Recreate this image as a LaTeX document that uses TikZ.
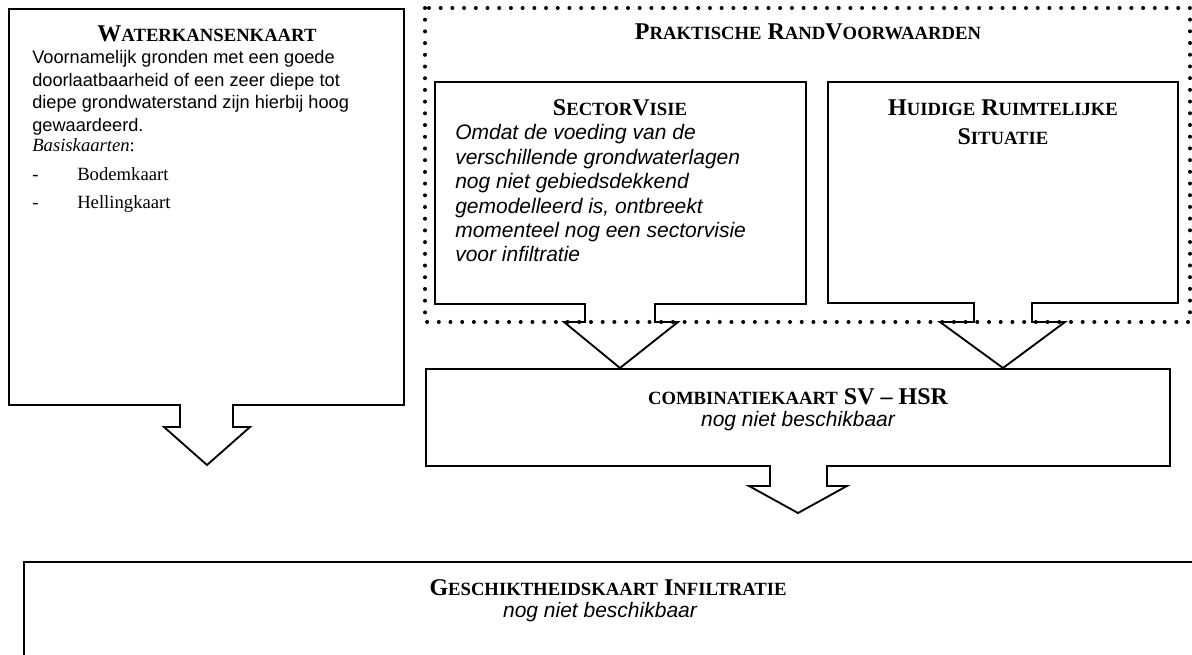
\documentclass[tikz,border=0pt]{standalone}
\usepackage{fontspec}
\setmainfont{Liberation Serif}
\newfontfamily\arialfam{Liberation Sans}
\newcommand\smallcp[1]{{\fontsize{14}{14}\selectfont #1}}
\begin{document}
\begin{tikzpicture}[x=0.75pt,y=-0.75pt,
  callout/.style={draw,line width=1.4pt,line join=miter},
  framebox/.style={draw,line width=3pt,line cap=round,dash pattern=on 0pt off 8.78pt},
  ttl/.style={font=\bfseries\fontsize{18}{18}\selectfont,inner sep=0pt,anchor=base},
  wbody/.style={font=\arialfam\fontsize{13.65}{17}\selectfont,inner sep=0pt,anchor=base west},
  sbody/.style={font=\arialfam\itshape\fontsize{15.75}{18}\selectfont,inner sep=0pt,anchor=base west},
  tbody/.style={font=\fontsize{14}{16}\selectfont,inner sep=0pt,anchor=base west},
  sub/.style={font=\arialfam\itshape\fontsize{15.75}{18}\selectfont,inner sep=0pt,anchor=base}]
\useasboundingbox (0,0) rectangle (1192,655);
\clip (0,0) rectangle (1192,655);
\fill[white] (0,0) rectangle (1192,655);

% dotted frame
\draw[framebox] (425,8) rectangle (1190,322);

% Waterkansenkaart callout
\draw[callout] (9,9) -- (404,9) -- (404,405) -- (233,405) -- (233,427) -- (250,427)
  -- (207,465) -- (164,427) -- (180,427) -- (180,405) -- (9,405) -- cycle;
% Sectorvisie callout
\draw[callout] (435,82) -- (806,82) -- (806,304) -- (655,304) -- (655,322) -- (678,322)
  -- (620,368) -- (564,322) -- (585,322) -- (585,304) -- (435,304) -- cycle;
% Huidige ruimtelijke situatie callout
\draw[callout] (828,82) -- (1178,82) -- (1178,303) -- (1032,303) -- (1032,322) -- (1065,322)
  -- (1003,368) -- (940,322) -- (974,322) -- (974,303) -- (828,303) -- cycle;
% Combinatiekaart callout
\draw[callout] (426,369) -- (1170,369) -- (1170,466) -- (827,466) -- (827,486) -- (847,486)
  -- (798,513) -- (749,486) -- (770,486) -- (770,466) -- (426,466) -- cycle;
% Geschiktheidskaart box
\draw[line width=2.2pt] (24,562) rectangle (1210,700);

% texts
\node[ttl] (wt) at (207,42) {W\smallcp{ATERKANSENKAART}};
\node[wbody] (w1) at (32,64) {Voornamelijk gronden met een goede};
\node[wbody] (w2) at (32,86.5) {doorlaatbaarheid of een zeer diepe tot};
\node[wbody] (w3) at (32,109) {diepe grondwaterstand zijn hierbij hoog};
\node[wbody] (w4) at (32,131.5) {gewaardeerd.};
\node[tbody] (wb) at (32,151.5) {\textit{Basiskaarten}:};
\node[tbody] (d1) at (32,181) {-};
\node[tbody] (i1) at (77,181) {Bodemkaart};
\node[tbody] (d2) at (32,209) {-};
\node[tbody] (i2) at (77,209) {Hellingkaart};

\node[ttl] (pt) at (808,40) {P\smallcp{RAKTISCHE} R\smallcp{AND}V\smallcp{OORWAARDEN}};

\node[ttl] (st) at (620,116) {S\smallcp{ECTOR}V\smallcp{ISIE}};
\node[sbody] (s1) at (455,140) {Omdat de voeding van de};
\node[sbody] (s2) at (455,164.4) {verschillende grondwaterlagen};
\node[sbody] (s3) at (455,188.8) {nog niet gebiedsdekkend};
\node[sbody] (s4) at (455,213.2) {gemodelleerd is, ontbreekt};
\node[sbody] (s5) at (455,237.6) {momenteel nog een sectorvisie};
\node[sbody] (s6) at (455,262) {voor infiltratie};

\node[ttl] (h1) at (1003,116) {H\smallcp{UIDIGE} R\smallcp{UIMTELIJKE}};
\node[ttl] (h2) at (1003,145) {S\smallcp{ITUATIE}};

\node[ttl] (ct) at (798,405) {\smallcp{COMBINATIEKAART} SV -- HSR};
\node[sub] (cs) at (798,427) {nog niet beschikbaar};

\node[ttl] (gt) at (608,595) {G\smallcp{ESCHIKTHEIDSKAART} I\smallcp{NFILTRATIE}};
\node[sub] (gs) at (600,617) {nog niet beschikbaar};
\end{tikzpicture}
\end{document}
